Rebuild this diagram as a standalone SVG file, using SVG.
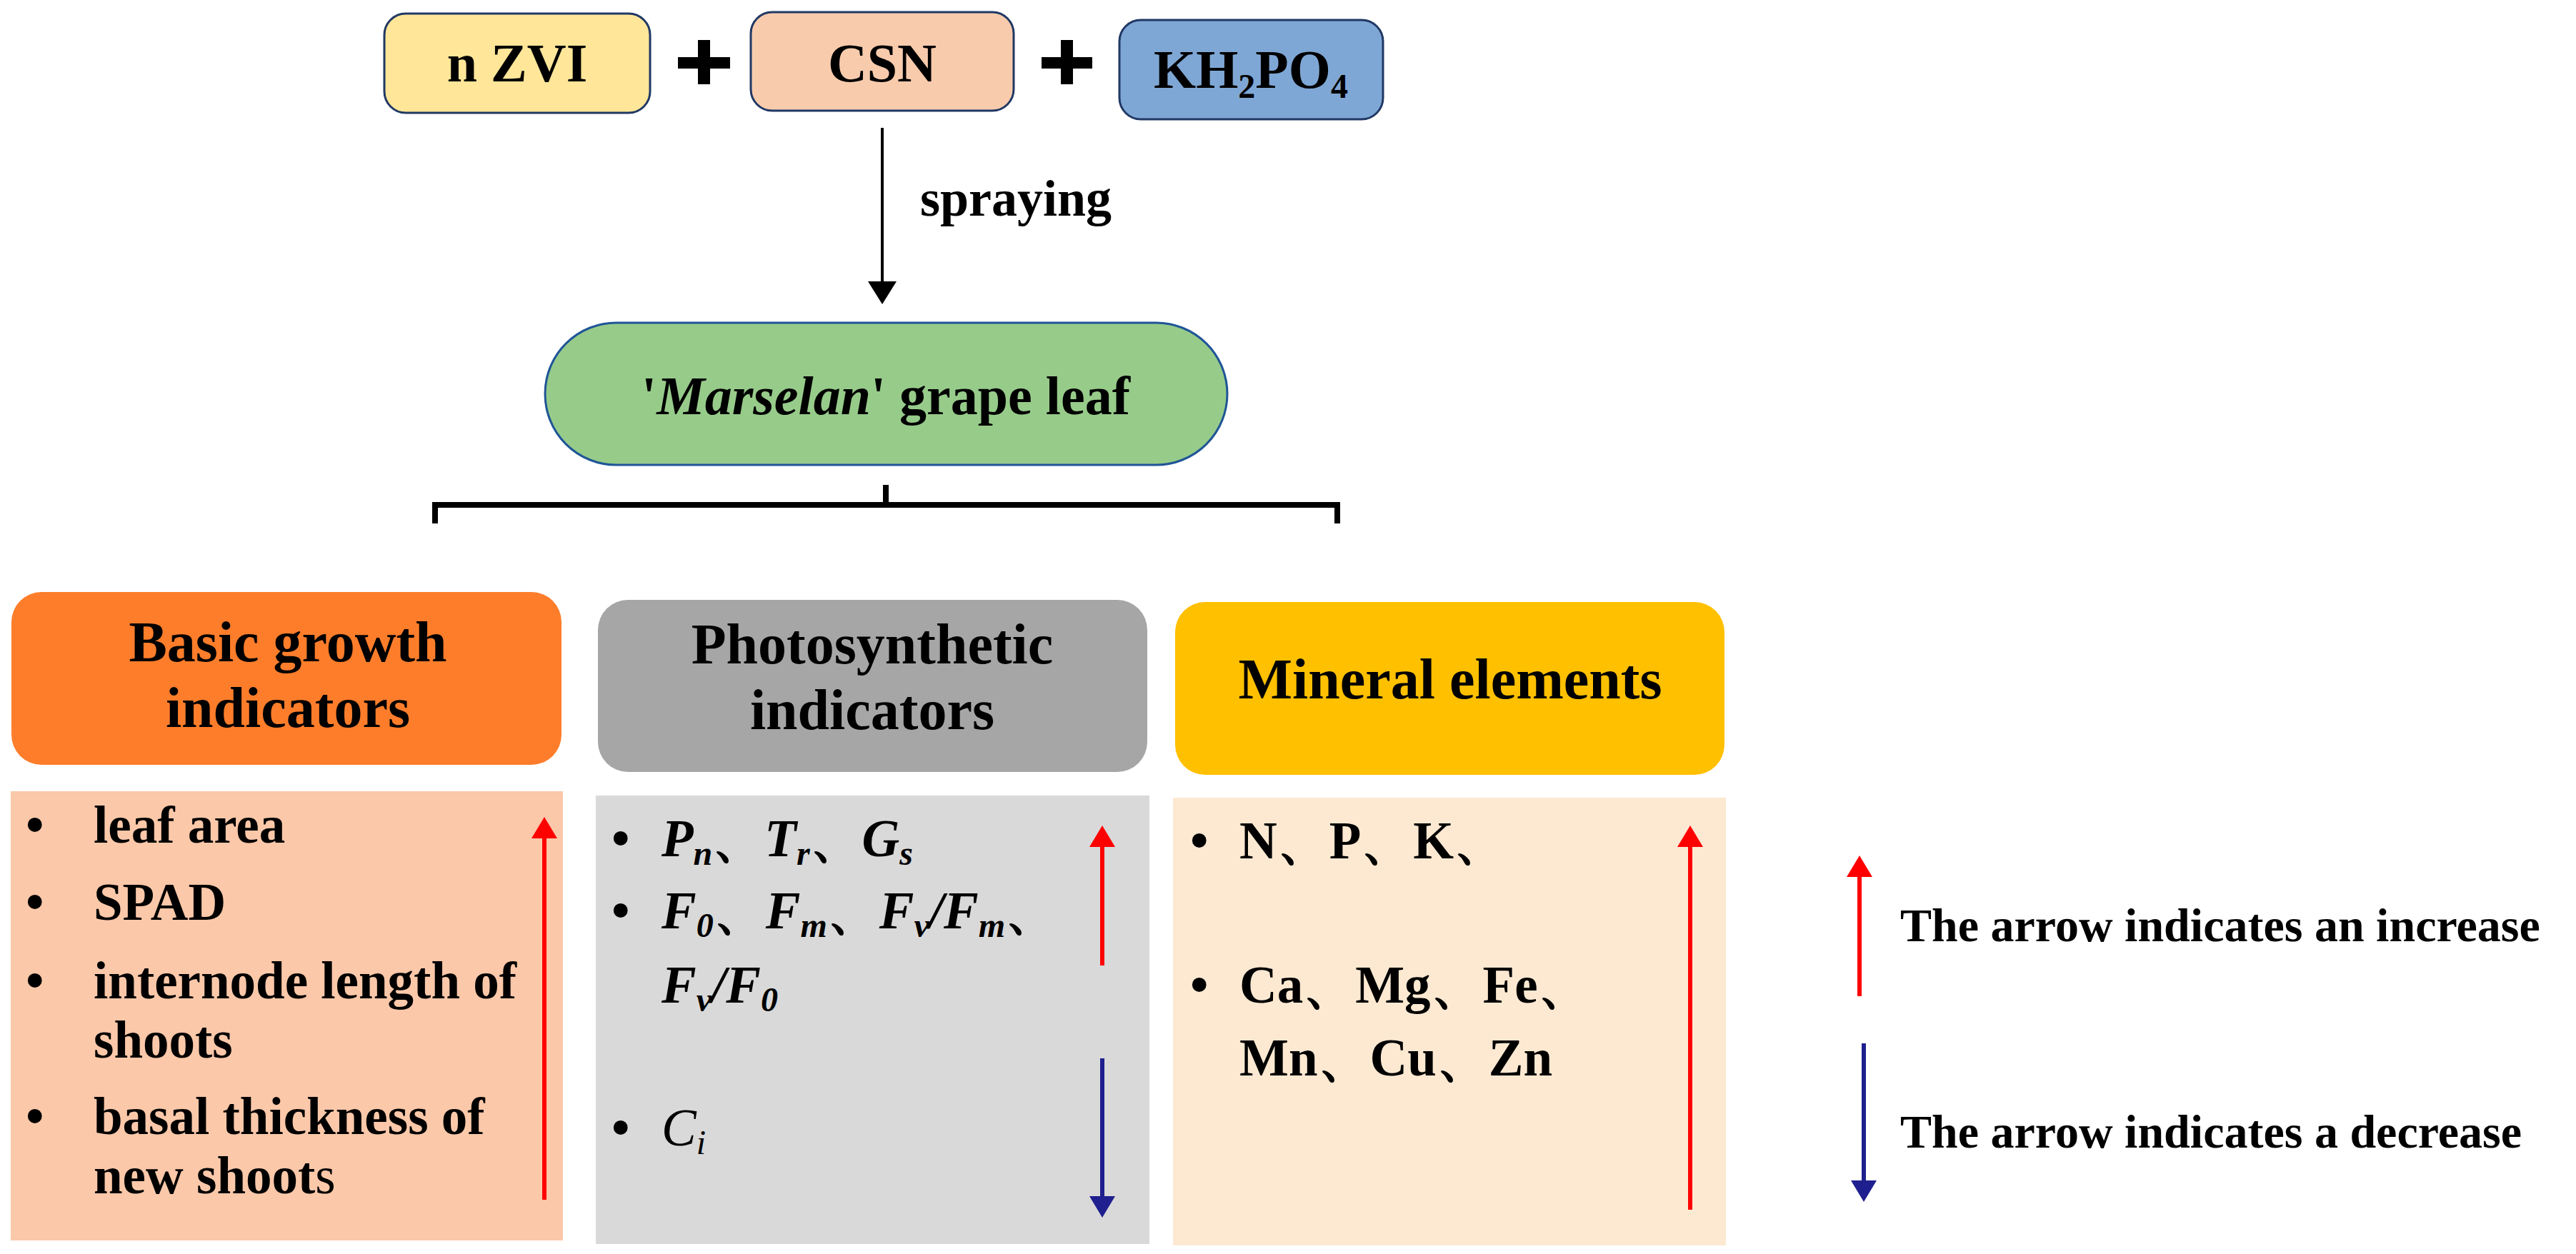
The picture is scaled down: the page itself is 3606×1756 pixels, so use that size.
<svg xmlns="http://www.w3.org/2000/svg" width="3606" height="1756" viewBox="0 0 3606 1756">
<defs>
<style>
text{font-family:"Liberation Serif","Times New Roman",serif;font-weight:bold;fill:#000}
.t{font-size:76px}
.h{font-size:80px;text-anchor:middle}
.b{font-size:73px}
.lg{font-size:66px}
.top{stroke:#203864;stroke-width:3}
.i{font-style:italic}
</style>
<marker id="ak" markerWidth="8" markerHeight="10" refX="7" refY="5" orient="auto" markerUnits="strokeWidth"><path d="M0,0 L8,5 L0,10 z" fill="#000"/></marker>
<marker id="ar" markerWidth="5" markerHeight="6" refX="4" refY="3" orient="auto" markerUnits="strokeWidth"><path d="M0,0 L5,3 L0,6 z" fill="#FF0000"/></marker>
<marker id="ab" markerWidth="5" markerHeight="6" refX="4" refY="3" orient="auto" markerUnits="strokeWidth"><path d="M0,0 L5,3 L0,6 z" fill="#1F1F8F"/></marker>
</defs>
<rect width="3606" height="1756" fill="#fff"/>
<g id="nzvi"><rect class="top" x="538" y="19" width="372" height="139" rx="30" fill="#FFE699"/><text class="t" x="724" y="114" text-anchor="middle">n ZVI</text></g>
<g id="plus1"><rect x="949" y="80" width="73" height="16" fill="#000"/><rect x="977" y="56" width="17" height="62" fill="#000"/></g>
<g id="csn"><rect class="top" x="1051" y="17" width="368" height="138" rx="30" fill="#F8CBAD"/><text class="t" x="1235" y="114" text-anchor="middle">CSN</text></g>
<g id="plus2"><rect x="1458" y="80" width="71" height="16" fill="#000"/><rect x="1485" y="56" width="17" height="62" fill="#000"/></g>
<g id="kh2po4"><rect class="top" x="1567" y="28" width="369" height="139" rx="30" fill="#7FA7D5"/><text class="t" x="1751" y="123" text-anchor="middle">KH<tspan font-size="48" dy="14">2</tspan><tspan dy="-14">PO</tspan><tspan font-size="48" dy="14">4</tspan></text></g>
<g id="leaf"><rect x="763" y="452" width="955" height="199" rx="99.5" fill="#97CB8A" stroke="#1F5597" stroke-width="3"/><text class="t" x="1240" y="580" text-anchor="middle">'<tspan class="i">Marselan</tspan>' grape leaf</text></g>
<g id="basic">
<rect x="16" y="829" width="770" height="242" rx="42" fill="#FD7D2B"/>
<text class="h" x="403" y="926">Basic growth</text><text class="h" x="403" y="1018">indicators</text>
<rect x="15" y="1108" width="773" height="629" fill="#FBC8A9"/>
<g class="b"><text x="36" y="1180">•</text><text x="131" y="1180">leaf area</text>
<text x="36" y="1288">•</text><text x="131" y="1288">SPAD</text>
<text x="36" y="1398">•</text><text x="131" y="1398">internode length of</text><text x="131" y="1481">shoots</text>
<text x="36" y="1588">•</text><text x="131" y="1588">basal thickness of</text><text x="131" y="1671">new shoot<tspan font-weight="normal">s</tspan></text></g>
</g>
<g id="photo">
<rect x="837" y="840" width="769" height="241" rx="42" fill="#A6A6A6"/>
<text class="h" x="1221" y="929">Photosynthetic</text><text class="h" x="1221" y="1021">indicators</text>
<rect x="834" y="1114" width="775" height="628" fill="#D9D9D9"/>
<g class="b"><text x="856" y="1199">•</text><text x="926" y="1199"><tspan class="i">P</tspan><tspan class="i" font-size="48" dy="12">n</tspan><tspan dy="-12">、</tspan><tspan class="i">T</tspan><tspan class="i" font-size="48" dy="12">r</tspan><tspan dy="-12">、</tspan><tspan class="i">G</tspan><tspan class="i" font-size="48" dy="12">s</tspan></text>
<text x="856" y="1300">•</text><text x="926" y="1300"><tspan class="i">F</tspan><tspan class="i" font-size="48" dy="12">0</tspan><tspan dy="-12">、</tspan><tspan class="i">F</tspan><tspan class="i" font-size="48" dy="12">m</tspan><tspan dy="-12">、</tspan><tspan class="i">F</tspan><tspan class="i" font-size="48" dy="12">v</tspan><tspan class="i" dy="-12">/F</tspan><tspan class="i" font-size="48" dy="12">m</tspan><tspan dy="-12">、</tspan></text>
<text x="926" y="1404"><tspan class="i">F</tspan><tspan class="i" font-size="48" dy="12">v</tspan><tspan class="i" dy="-12">/F</tspan><tspan class="i" font-size="48" dy="12">0</tspan></text>
<text x="856" y="1604">•</text><text x="926" y="1604" font-weight="normal" fill="#333"><tspan class="i" font-weight="normal">C</tspan><tspan class="i" font-weight="normal" font-size="48" dy="12">i</tspan></text></g>
</g>
<g id="mineral">
<rect x="1645" y="843" width="769" height="242" rx="42" fill="#FFC000"/>
<text class="h" x="2030" y="978">Mineral elements</text>
<rect x="1642" y="1117" width="774" height="627" fill="#FDE9D2"/>
<g class="b"><text x="1666" y="1202">•</text><text x="1735" y="1202">N、P、K、</text>
<text x="1666" y="1404">•</text><text x="1735" y="1404">Ca、Mg、Fe、</text><text x="1735" y="1506">Mn、Cu、Zn</text></g>
</g>
<g id="legend">
<text class="lg" x="2660" y="1318">The arrow indicates an increase</text>
<text class="lg" x="2660" y="1607">The arrow indicates a decrease</text>
</g>
<g id="connectors" fill="none">
<line x1="1235" y1="179" x2="1235" y2="422" stroke="#000" stroke-width="4" marker-end="url(#ak)"/>
<text x="1288" y="302" font-size="72">spraying</text>
<path d="M609,733 L609,707 L1872,707 L1872,733 M1240,679 L1240,707" stroke="#000" stroke-width="8"/>
<line x1="762" y1="1680" x2="762" y2="1150" stroke="#FF0000" stroke-width="6" marker-end="url(#ar)"/>
<line x1="1543" y1="1352" x2="1543" y2="1162" stroke="#FF0000" stroke-width="6" marker-end="url(#ar)"/>
<line x1="1543" y1="1482" x2="1543" y2="1699" stroke="#1F1F8F" stroke-width="6" marker-end="url(#ab)"/>
<line x1="2366" y1="1694" x2="2366" y2="1162" stroke="#FF0000" stroke-width="6" marker-end="url(#ar)"/>
<line x1="2603" y1="1395" x2="2603" y2="1204" stroke="#FF0000" stroke-width="6" marker-end="url(#ar)"/>
<line x1="2609" y1="1461" x2="2609" y2="1677" stroke="#1F1F8F" stroke-width="6" marker-end="url(#ab)"/>
</g>
</svg>
